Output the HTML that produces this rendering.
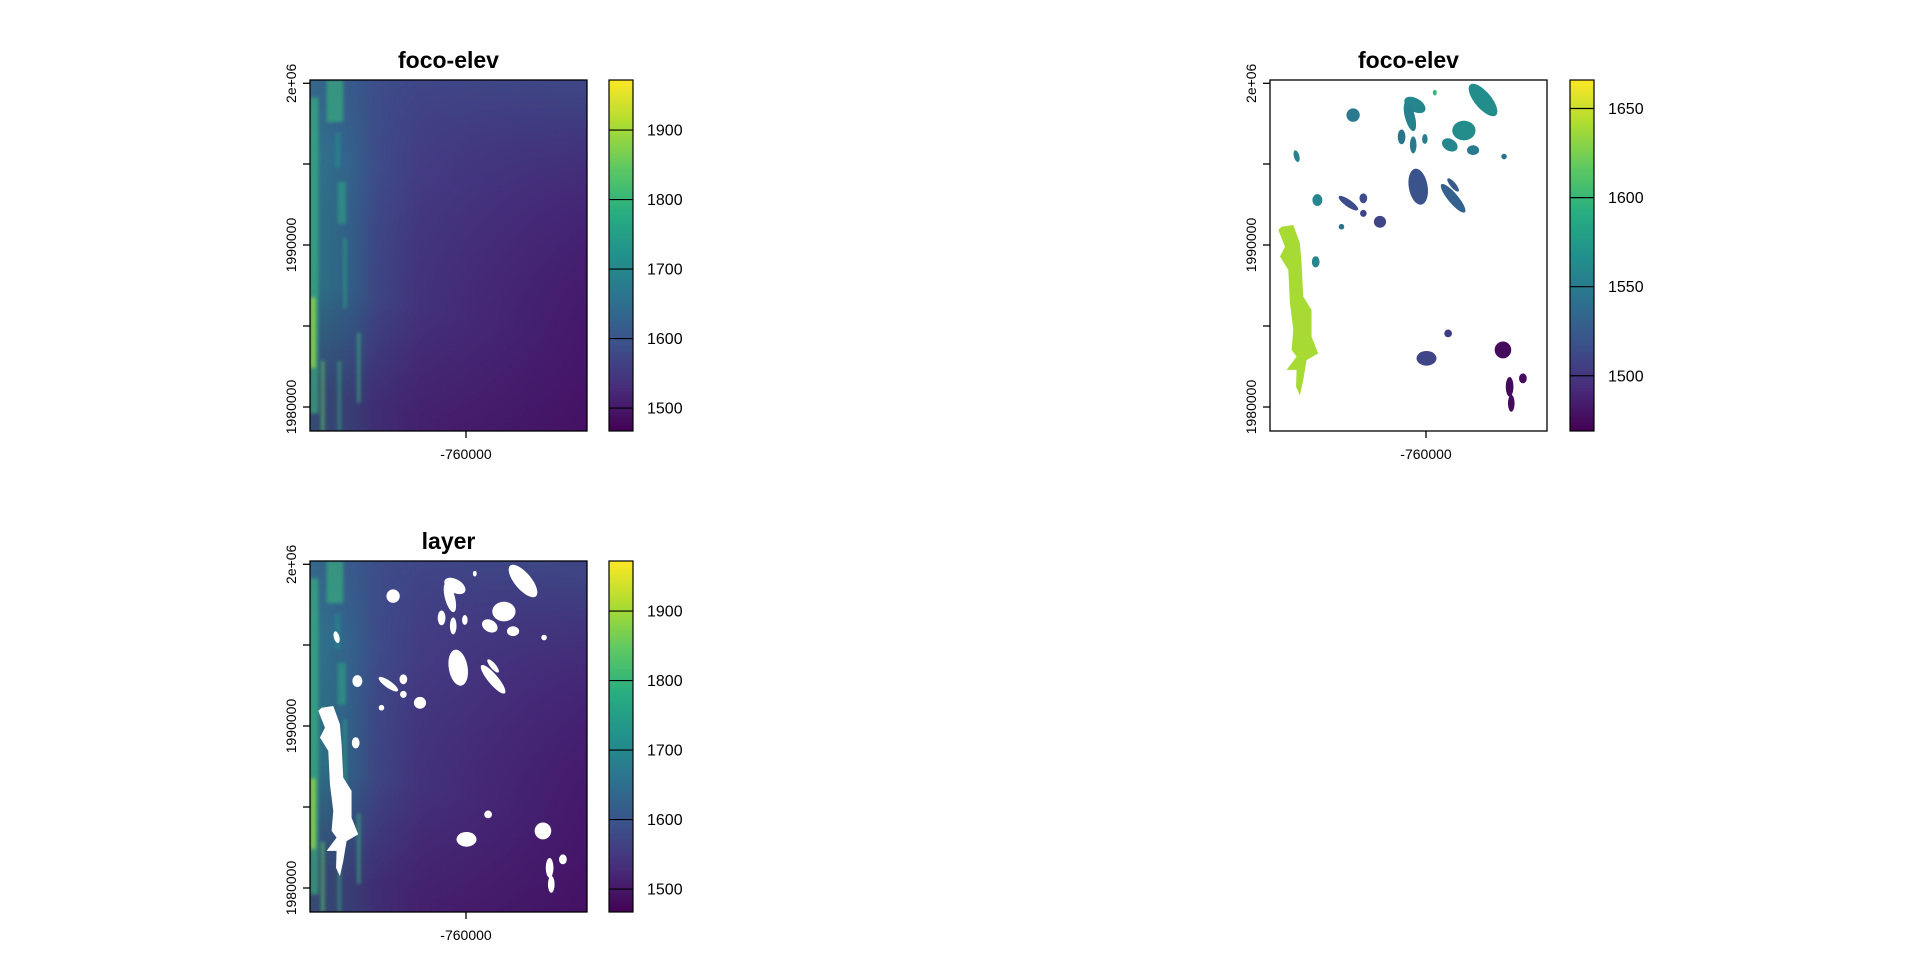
<!DOCTYPE html>
<html><head><meta charset="utf-8"><style>
body{margin:0;background:#fff;}
svg{display:block;font-family:"Liberation Sans",Arial,sans-serif;}
</style></head><body>
<svg id="chart" width="1920" height="960" viewBox="0 0 1920 960" xmlns="http://www.w3.org/2000/svg">
<defs id="defs">
<linearGradient id="vir" x1="0" y1="1" x2="0" y2="0">
<stop offset="0" stop-color="#440154"/><stop offset="0.125" stop-color="#472d7b"/><stop offset="0.25" stop-color="#3b528b"/><stop offset="0.375" stop-color="#2c728e"/><stop offset="0.5" stop-color="#21918c"/><stop offset="0.625" stop-color="#28ae80"/><stop offset="0.75" stop-color="#5ec962"/><stop offset="0.875" stop-color="#addc30"/><stop offset="1" stop-color="#fde725"/>
</linearGradient>
<linearGradient id="elevH" x1="0" y1="0" x2="1" y2="0">
<stop offset="0" stop-color="#2a8a8c"/><stop offset="0.08" stop-color="#2a7a8e"/><stop offset="0.16" stop-color="#2f6b8e"/><stop offset="0.24" stop-color="#3b518b"/><stop offset="0.4" stop-color="#433a82"/><stop offset="1" stop-color="#451a6e"/>
</linearGradient>
<linearGradient id="elevV" x1="0.8" y1="0" x2="0.6" y2="1">
<stop offset="0" stop-color="#3b528b" stop-opacity="0.75"/><stop offset="0.35" stop-color="#433e85" stop-opacity="0.25"/><stop offset="0.7" stop-color="#440154" stop-opacity="0.15"/><stop offset="1" stop-color="#440154" stop-opacity="0.45"/>
</linearGradient>
<filter id="blur"><feGaussianBlur stdDeviation="1.5"/></filter>
<clipPath id="clip1"><rect x="310" y="80" width="277" height="351"/></clipPath>
<clipPath id="clip3"><rect x="310" y="561" width="277" height="351"/></clipPath>
</defs>
</svg>
<script>
// colour scale ranges
const elevMin = 1467, elevMax = 1972;
const lakeMin = 1469, lakeMax = 1666;
const elevTicks = [1500, 1600, 1700, 1800, 1900];
const lakeTicks = [1500, 1550, 1600, 1650];
const yTickLabels = ["1980000", "1990000", "2e+06"];
const xTickLabels = ["-760000"];
// lakes: centre x, centre y (fraction of map), radii, rotation, value
const lakeCx = [0.523,0.505,0.769,0.300,0.595,0.700,0.649,0.733,0.475,0.517,0.559,0.096,0.535,0.661,0.661,0.171,0.283,0.337,0.397,0.337,0.165,0.643,0.565,0.841,0.865,0.871,0.913,0.845,0.258];
const lakeCy = [0.071,0.104,0.057,0.100,0.036,0.144,0.185,0.200,0.162,0.185,0.168,0.217,0.304,0.337,0.299,0.342,0.351,0.337,0.404,0.380,0.518,0.722,0.793,0.769,0.874,0.921,0.850,0.218,0.418];
const lakeRx = [0.042,0.018,0.030,0.024,0.007,0.042,0.030,0.022,0.014,0.012,0.010,0.010,0.034,0.018,0.010,0.018,0.042,0.014,0.022,0.012,0.014,0.014,0.036,0.030,0.014,0.012,0.014,0.010,0.010];
const lakeRy = [0.019,0.043,0.057,0.019,0.008,0.028,0.017,0.014,0.021,0.024,0.014,0.017,0.052,0.052,0.024,0.017,0.010,0.014,0.017,0.010,0.016,0.011,0.021,0.024,0.028,0.024,0.014,0.008,0.008];
const lakeRot = [30,-15,-40,0,0,0,30,0,0,0,0,-15,-10,-40,-40,0,35,0,0,0,0,0,0,0,0,0,0,0,0];
const lakeVal = [1560,1555,1565,1550,1600,1565,1560,1550,1545,1550,1555,1555,1520,1530,1525,1560,1515,1515,1510,1510,1560,1505,1510,1475,1475,1475,1475,1545,1545];
// main elongated lake outline (fractions of map)
const bigLakeX = [0.042,0.084,0.108,0.114,0.120,0.150,0.150,0.174,0.132,0.120,0.108,0.094,0.096,0.060,0.096,0.078,0.084,0.072,0.066,0.036,0.054,0.030];
const bigLakeY = [0.418,0.413,0.465,0.522,0.617,0.655,0.731,0.779,0.798,0.855,0.898,0.874,0.826,0.826,0.788,0.769,0.712,0.636,0.541,0.503,0.475,0.427];
const bigLakeVal = 1640;

const NS='http://www.w3.org/2000/svg';
const svg=document.getElementById('chart');
const stops=[[68,1,84],[72,40,120],[62,73,137],[49,104,142],[38,130,142],[31,158,137],[53,183,121],[109,205,89],[180,222,44],[253,231,37]];
function viridis(t){t=Math.max(0,Math.min(1,t));const f=t*9,i=Math.min(8,Math.floor(f)),r=f-i;const a=stops[i],b=stops[i+1];return 'rgb('+a.map((v,k)=>Math.round(v+(b[k]-v)*r)).join(',')+')';}
function mk(tag,attrs,parent){const e=document.createElementNS(NS,tag);for(const k in attrs)e.setAttribute(k,attrs[k]);(parent||svg).appendChild(e);return e;}

function drawElev(g,x,y,w,h,clip){
  const c=mk('g',{'clip-path':'url(#'+clip+')'},g);
  mk('rect',{x:x,y:y,width:w,height:h,fill:'url(#elevH)'},c);
  mk('rect',{x:x,y:y,width:w,height:h,fill:'url(#elevV)'},c);
  const s=mk('g',{filter:'url(#blur)'},c);
  const streaks=[[0.0,0.5,0.03,0.45,'#35b779',0.6],[0.0,0.72,0.02,0.1,'#8fd744',0.8],[0.06,0.06,0.06,0.06,'#35b779',0.6],[0.17,0.82,0.012,0.1,'#35b779',0.6],[0.12,0.55,0.012,0.1,'#28ae80',0.5],[0.10,0.35,0.03,0.06,'#28ae80',0.5],[0.04,0.9,0.012,0.1,'#5ec962',0.6],[0.10,0.9,0.012,0.1,'#35b779',0.5],[0.09,0.2,0.02,0.05,'#21918c',0.5]];
  streaks.forEach(q=>mk('rect',{x:x+q[0]*w,y:y+(q[1]-q[3])*h,width:q[2]*w,height:2*q[3]*h,fill:q[4],opacity:q[5]},s));
  return c;
}
function drawLakes(g,x,y,w,h,colorFn){
  for(let i=0;i<lakeCx.length;i++){
    const cx=x+lakeCx[i]*w, cy=y+lakeCy[i]*h;
    const e=mk('ellipse',{cx:cx,cy:cy,rx:lakeRx[i]*w,ry:lakeRy[i]*h,transform:'rotate('+lakeRot[i]+' '+cx+' '+cy+')',fill:colorFn(lakeVal[i])},g);
    
    
  }
  const pts=bigLakeX.map((v,i)=>(x+v*w)+','+(y+bigLakeY[i]*h)).join(' ');
  const p=mk('polygon',{points:pts,fill:colorFn(bigLakeVal)},g);
  
  
}
function axes(g,x,y,w,h,title){
  mk('rect',{x:x,y:y,width:w,height:h,fill:'none',stroke:'#000','stroke-width':1.3},g);
  const t=mk('text',{x:x+w/2,y:y-12,'text-anchor':'middle','font-size':23,'font-weight':'bold'},g);
  t.textContent=title;
  
  
  const tickY=[3.3,84,165,246,327];
  tickY.forEach(v=>mk('line',{x1:x-7,x2:x,y1:y+v,y2:y+v,stroke:'#000','stroke-width':1.3},g));
  const labY=[327,165,3.3];
  yTickLabels.forEach((lab,i)=>{const ty=y+labY[i];const tx=x-14;
    const tt=mk('text',{x:tx,y:ty,'text-anchor':'middle','font-size':14,transform:'rotate(-90 '+tx+' '+ty+')'},g);tt.textContent=lab;
    });
  const xt=x+156;
  mk('line',{x1:xt,x2:xt,y1:y+h,y2:y+h+7,stroke:'#000','stroke-width':1.3},g);
  const xl=mk('text',{x:xt,y:y+h+28,'text-anchor':'middle','font-size':14},g);xl.textContent=xTickLabels[0];
  
}
function colorbar(g,x,y,w,h,min,max,ticks){
  mk('rect',{x:x,y:y,width:w,height:h,fill:'url(#vir)'},g);
  mk('rect',{x:x,y:y,width:w,height:h,fill:'none',stroke:'#000','stroke-width':1.2},g);
  ticks.forEach(v=>{const ty=y+h-(v-min)/(max-min)*h;
    mk('line',{x1:x,x2:x+w,y1:ty,y2:ty,stroke:'#000','stroke-width':1.2},g);
    const tl=mk('text',{x:x+w+14,y:ty+5.5,'font-size':16},g);tl.textContent=v;
    });
}
const lCol=v=>viridis((v-lakeMin)/(lakeMax-lakeMin));
// panel 1
let g=mk('g',{});
drawElev(g,310,80,277,351,'clip1');axes(g,310,80,277,351,'foco-elev');colorbar(g,609,80,24,351,elevMin,elevMax,elevTicks);
// panel 2
g=mk('g',{});
drawLakes(g,1270,80,277,351,lCol);axes(g,1270,80,277,351,'foco-elev');colorbar(g,1570,80,24,351,lakeMin,lakeMax,lakeTicks);
// panel 3
g=mk('g',{});
const c3=drawElev(g,310,561,277,351,'clip3');drawLakes(c3,310,561,277,351,()=> '#ffffff');axes(g,310,561,277,351,'layer');colorbar(g,609,561,24,351,elevMin,elevMax,elevTicks);
</script>
</body></html>
